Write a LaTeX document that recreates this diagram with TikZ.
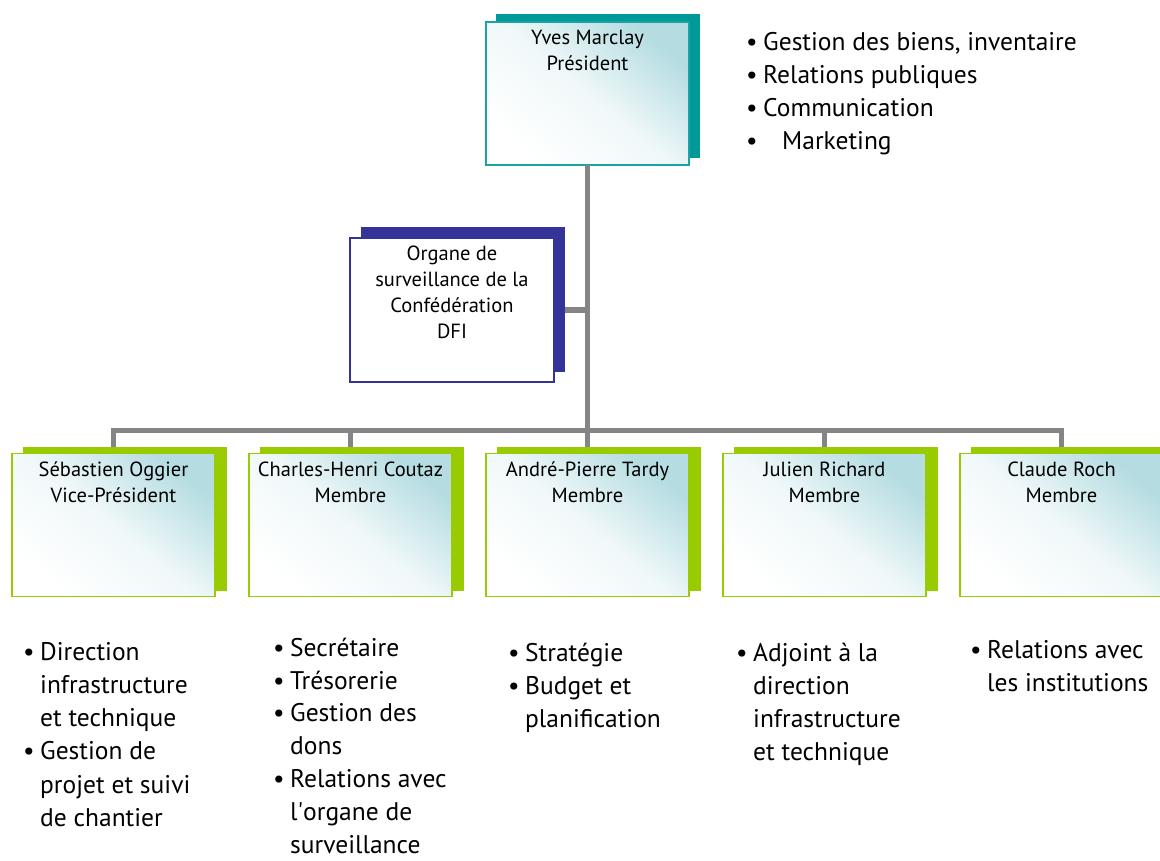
\documentclass[tikz,border=0pt]{standalone}
\usepackage{fontspec}
\setmainfont{PT Sans}
\definecolor{tealA}{HTML}{009999}
\definecolor{tealB}{HTML}{1AA3A3}
\definecolor{navyA}{HTML}{333399}
\definecolor{limeA}{HTML}{99CC00}
\definecolor{iceA}{HTML}{B4DCE1}
\definecolor{connA}{HTML}{858585}
\newcommand{\bul}{\makebox[17pt][l]{\textbullet}}
\newcommand{\ind}{\hspace*{17pt}}
\tikzset{
  shadowbox/.style={draw=none, fill=#1, minimum width=204pt, minimum height=144pt, inner sep=0pt, outer sep=0pt},
  frontbox/.style={draw=#1, line width=1.5pt, minimum width=203pt, minimum height=143pt, inner sep=0pt, outer sep=0pt,
     top color=iceA, bottom color=white, middle color=iceA!20, shading angle=-40},
  plainbox/.style={draw=#1, line width=1.5pt, fill=white, minimum width=204pt, minimum height=144pt, inner sep=0pt, outer sep=0pt},
  boxtext/.style={anchor=base, align=center, inner sep=0pt, font=\fontsize{20.5}{26}\selectfont},
  listtext/.style={anchor=base west, align=left, inner sep=0pt, font=\fontsize{25.5}{33.3}\selectfont},
  conn/.style={draw=connA, line width=5pt},
}
\begin{document}
\begin{tikzpicture}[x=1pt,y=-1pt]
\useasboundingbox (0,0) rectangle (1160,861);
\fill[white] (0,0) rectangle (1160,861);
% hub
\coordinate (hub) at (587.5,430);
% president
\node[shadowbox=tealA] (ps) at (598,86) {};
\node[frontbox=tealB] (pres) at (587.5,93.5) {};
\node[boxtext] (prest) at (587.5,71) {Yves Marclay\\Président};
% organe
\node[shadowbox=navyA] (os) at (463,299.5) {};
\node[plainbox=navyA] (org) at (452,310) {};
\node[boxtext] (orgt) at (452,338.5) {Organe de\\surveillance de la\\Confédération\\DFI};
% members
\foreach \i/\nm in {1/{Sébastien Oggier\\Vice-Président},2/{Charles-Henri Coutaz\\Membre},3/{André-Pierre Tardy\\Membre},4/{Julien Richard\\Membre},5/{Claude Roch\\Membre}}{
  \pgfmathsetmacro{\cx}{113.5+237*(\i-1)}
  \node[shadowbox=limeA] (s\i) at (\cx+11,518.5) {};
  \node[frontbox=limeA] (b\i) at (\cx,525) {};
  \node[boxtext] (t\i) at (\cx,502) {\nm};
}
% connectors
\draw[conn] (pres.south) -- (hub);
\draw[conn, line join=miter] (b1.north |- s1.north) -- (b1.north |- hub) -- (b5.north |- hub) -- (b5.north |- s5.north);
\foreach \i in {2,3,4}{
  \draw[conn] (b\i.north |- hub) -- (b\i.north |- s\i.north);
}
\draw[conn] (org.east -| os.east) -- (org.east -| hub);
% lists (anchored at the baseline of the last line)
\node[listtext] (lp) at (746,150) {\bul Gestion des biens, inventaire\\\bul Relations publiques\\\bul Communication\\\bul\hspace{19pt}Marketing};
\node[listtext] (l1) at (23,826.5) {\bul Direction\\\ind infrastructure\\\ind et technique\\\bul Gestion de\\\ind projet et suivi\\\ind de chantier};
\node[listtext, font=\fontsize{25.5}{32.8}\selectfont] (l2) at (273,853) {\bul Secrétaire\\\bul Trésorerie\\\bul Gestion des\\\ind dons\\\bul Relations avec\\\ind l\textquotesingle organe de\\\ind surveillance};
\node[listtext] (l3) at (508,727.6) {\bul Stratégie\\\bul Budget et\\\ind planification};
\node[listtext] (l4) at (736,760.9) {\bul Adjoint à la\\\ind direction\\\ind infrastructure\\\ind et technique};
\node[listtext] (l5) at (970,691.3) {\bul Relations avec\\\ind les institutions};
\end{tikzpicture}
\end{document}
